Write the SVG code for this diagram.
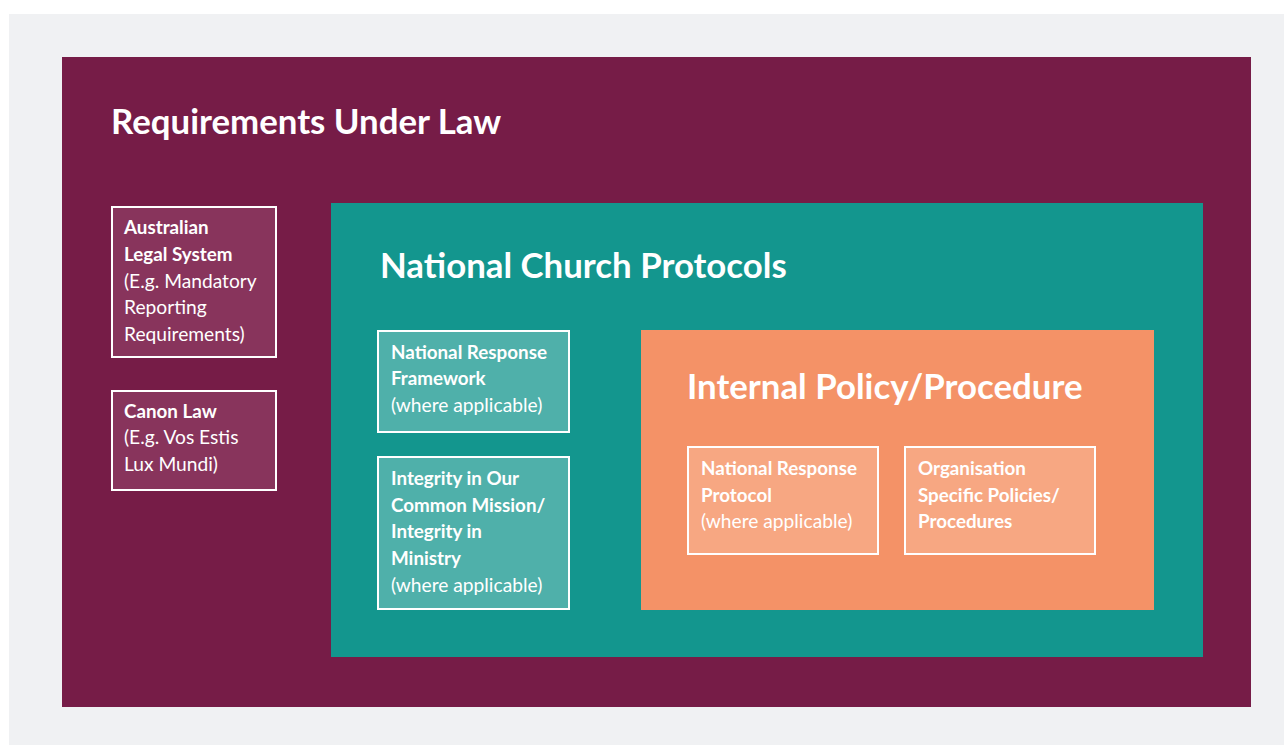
<svg xmlns="http://www.w3.org/2000/svg" width="1284" height="745" viewBox="0 0 1284 745">
  <style>
    text { font-family: Lato, "Open Sans", "Liberation Sans", sans-serif; fill: #ffffff; }
    .h1 { font-size: 34.8px; font-weight: 700; }
    .b { font-size: 18.8px; font-weight: 700; }
    .r { font-size: 19.2px; font-weight: 400; }
    .box { stroke: #ffffff; stroke-width: 2; }
    .law { fill: #88345c; }
    .nat { fill: #4fb0aa; }
    .pol { fill: #f7a782; }
  </style>

  <!-- page background -->
  <rect x="0" y="0" width="1284" height="745" fill="#ffffff"/>
  <rect x="9" y="14" width="1275" height="731" fill="#f0f1f3"/>

  <!-- outer layer: law -->
  <g id="requirements-under-law">
    <rect x="62" y="57" width="1189" height="650" fill="#761c47"/>
    <text class="h1" x="111" y="134">Requirements Under Law</text>
  </g>

  <g id="australian-legal-system">
    <rect class="box law" x="112" y="207" width="164" height="150"/>
    <text class="b" x="124" y="234">Australian</text>
    <text class="b" x="124" y="261">Legal System</text>
    <text class="r" x="124" y="288">(E.g. Mandatory</text>
    <text class="r" x="124" y="314">Reporting</text>
    <text class="r" x="124" y="341">Requirements)</text>
  </g>

  <g id="canon-law">
    <rect class="box law" x="112" y="391" width="164" height="99"/>
    <text class="b" x="124" y="418">Canon Law</text>
    <text class="r" x="124" y="444">(E.g. Vos Estis</text>
    <text class="r" x="124" y="471">Lux Mundi)</text>
  </g>

  <!-- middle layer: national protocols -->
  <g id="national-church-protocols">
    <rect x="331" y="203" width="872" height="454" fill="#13968e"/>
    <text class="h1" x="380" y="278">National Church Protocols</text>
  </g>

  <g id="national-response-framework">
    <rect class="box nat" x="378" y="331" width="191" height="101"/>
    <text class="b" x="391" y="359">National Response</text>
    <text class="b" x="391" y="385">Framework</text>
    <text class="r" x="391" y="412">(where applicable)</text>
  </g>

  <g id="integrity-in-our-common-mission">
    <rect class="box nat" x="378" y="457" width="191" height="152"/>
    <text class="b" x="391" y="485">Integrity in Our</text>
    <text class="b" x="391" y="512">Common Mission/</text>
    <text class="b" x="391" y="538">Integrity in</text>
    <text class="b" x="391" y="565">Ministry</text>
    <text class="r" x="391" y="592">(where applicable)</text>
  </g>

  <!-- inner layer: internal policy -->
  <g id="internal-policy-procedure">
    <rect x="641" y="330" width="513" height="280" fill="#f49267"/>
    <text class="h1" x="687" y="399">Internal Policy/Procedure</text>
  </g>

  <g id="national-response-protocol">
    <rect class="box pol" x="688" y="447" width="190" height="107"/>
    <text class="b" x="701" y="475">National Response</text>
    <text class="b" x="701" y="502">Protocol</text>
    <text class="r" x="701" y="528">(where applicable)</text>
  </g>

  <g id="organisation-specific-policies">
    <rect class="box pol" x="905" y="447" width="190" height="107"/>
    <text class="b" x="918" y="475">Organisation</text>
    <text class="b" x="918" y="502">Specific Policies/</text>
    <text class="b" x="918" y="528">Procedures</text>
  </g>

  <!-- no connectors in this diagram -->
  <g id="connectors"/>
</svg>
